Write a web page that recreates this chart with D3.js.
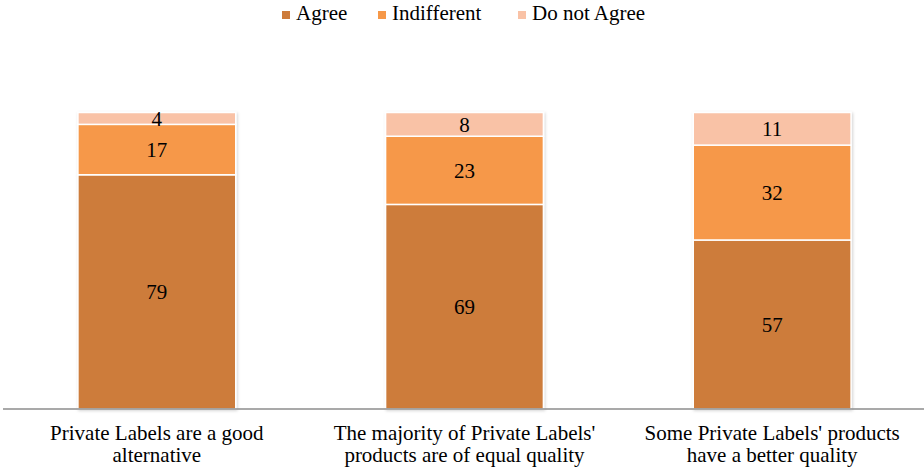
<!DOCTYPE html>
<html>
<head>
<meta charset="utf-8">
<script src="https://cdn.jsdelivr.net/npm/d3@7"></script>
</head>
<body style="margin:0;background:#fff">
<svg id="pl-survey" width="924" height="469"></svg>
<script>
// Survey answers on private labels (percent of respondents)
const categories = [
  ["Private Labels are a good", "alternative"],
  ["The majority of Private Labels'", "products are of equal quality"],
  ["Some Private Labels' products", "have a better quality"]
];
const seriesNames = ["Agree", "Indifferent", "Do not Agree"];
const agree = [79, 69, 57];
const indifferent = [17, 23, 32];
const doNotAgree = [4, 8, 11];
const colors = ["#CD7B3A", "#F69848", "#F9C2A6"];

const FONT = '"Liberation Serif", "Tinos", "Times New Roman", serif';
const svg = d3.select("#pl-survey");

function serifText(sel, size) {
  return sel
    .style("font-family", FONT, "important")
    .style("font-size", size + "px")
    .style("fill", "#000");
}

const rows = categories.map((c, i) => ({
  key: i,
  label: c,
  "Agree": agree[i],
  "Indifferent": indifferent[i],
  "Do not Agree": doNotAgree[i]
}));

const x = d3.scaleBand()
  .domain(rows.map(d => d.key))
  .range([3, 926])
  .paddingInner(0.487)
  .paddingOuter(0.2435);

const y = d3.scaleLinear().domain([0, 100]).range([409, 112.5]);

const layers = d3.stack().keys(seriesNames)(rows);

// soft drop shadow under the bars
const defs = svg.append("defs");
const f = defs.append("filter").attr("id", "shadow")
  .attr("x", "-10%").attr("y", "-10%").attr("width", "120%").attr("height", "120%");
f.append("feDropShadow").attr("dx", 1).attr("dy", 1).attr("stdDeviation", 1.5)
  .attr("flood-color", "#000").attr("flood-opacity", 0.18);

const barG = svg.append("g").attr("filter", "url(#shadow)");
layers.forEach((layer, li) => {
  barG.selectAll(null)
    .data(layer)
    .join("rect")
    .attr("x", d => x(d.data.key))
    .attr("width", x.bandwidth())
    .attr("y", d => y(d[1]))
    .attr("height", d => y(d[0]) - y(d[1]))
    .attr("fill", colors[li])
    .attr("stroke", "#fff")
    .attr("stroke-width", 1.5);
});

// value labels in the middle of each segment
layers.forEach(layer => {
  svg.append("g").selectAll("text")
    .data(layer)
    .join("text")
    .attr("x", d => x(d.data.key) + x.bandwidth() / 2)
    .attr("y", d => (y(d[0]) + y(d[1])) / 2)
    .attr("dy", "0.35em")
    .attr("text-anchor", "middle")
    .call(serifText, 21)
    .text(d => d[1] - d[0]);
});

// baseline axis
const xAxis = d3.axisBottom(x).tickSize(0).tickFormat("");
const axisG = svg.append("g").attr("transform", `translate(0,${y(0)})`).call(xAxis);
axisG.select(".domain").attr("stroke", "#8c8c8c").attr("stroke-width", 1.5)
  .attr("d", "M3,0H924");

// category labels (two lines each)
const catG = svg.append("g");
rows.forEach(d => {
  const cx = x(d.key) + x.bandwidth() / 2;
  d.label.forEach((line, i) => {
    catG.append("text")
      .attr("x", cx)
      .attr("y", 440 + i * 22)
      .attr("text-anchor", "middle")
      .call(serifText, 21)
      .text(line);
  });
});

// legend
const legendX = [282, 378, 518];
const legend = svg.append("g");
seriesNames.forEach((name, i) => {
  const g = legend.append("g").attr("transform", `translate(${legendX[i]},0)`);
  g.append("rect").attr("x", 0).attr("y", 11).attr("width", 8).attr("height", 8).attr("fill", colors[i]);
  g.append("text").attr("x", 14).attr("y", 20)
    .call(serifText, 21)
    .text(name);
});
</script>
</body>
</html>
